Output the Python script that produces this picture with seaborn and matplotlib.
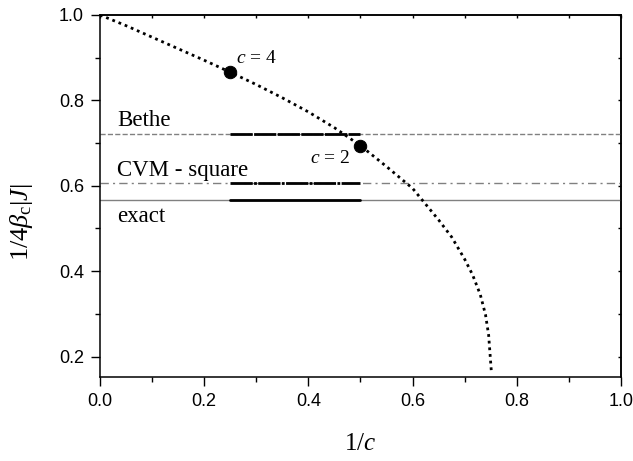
import numpy as np
import pandas as pd
import matplotlib
matplotlib.use("Agg")
import matplotlib.pyplot as plt
import seaborn as sns
from matplotlib.ticker import MultipleLocator

# ---- data ----
inv_c = [0.0, 0.05, 0.10, 0.15, 0.20, 0.25, 0.30, 0.35, 0.40, 0.45, 0.50,
         0.55, 0.60, 0.65, 0.675, 0.70, 0.715, 0.73, 0.74, 0.746, 0.751]
tc = [1.0, 0.975, 0.948, 0.921, 0.894, 0.866, 0.837, 0.806, 0.773, 0.736, 0.694,
      0.645, 0.594, 0.520, 0.480, 0.428, 0.392, 0.345, 0.298, 0.250, 0.168]
pts_x = [0.25, 0.5]
pts_y = [0.866, 0.694]
pts_lab = ["4", "2"]
approx_names = ["Bethe", "CVM - square", "exact"]
approx_vals = [0.7214, 0.6069, 0.5673]
seg_x = [0.25, 0.5]

sns.set_theme(style="ticks")
plt.rcParams["font.family"] = ["Liberation Sans", "DejaVu Sans"]
plt.rcParams["mathtext.fontset"] = "custom"
plt.rcParams["mathtext.rm"] = "Liberation Serif"
plt.rcParams["mathtext.it"] = "Liberation Serif:italic"
plt.rcParams["text.color"] = "black"
plt.rcParams["axes.labelcolor"] = "black"

fig = plt.figure(figsize=(6.33, 4.61), dpi=100)
ax = fig.add_axes([0.158, 0.182, 0.823, 0.7855])

df = pd.DataFrame({"x": inv_c, "y": tc})

# horizontal reference lines (gray, full width)
styles_gray = ["--", (0, (6, 3, 1.5, 3)), "-"]
styles_blk = [(0, (8, 0.5)), (0, (8, 0.5, 1, 0.5)), "-"]
for v, sg, sb in zip(approx_vals, styles_gray, styles_blk):
    ax.axhline(v, color="#808080", lw=1.0, ls=sg, zorder=1)
    sns.lineplot(x=seg_x, y=[v, v], ax=ax, color="black", lw=2.0,
                 linestyle=sb, zorder=2)

sns.lineplot(data=df, x="x", y="y", ax=ax, color="black", lw=2.0,
             linestyle=(0, (1, 1.4)), sort=False, zorder=3)
sns.scatterplot(x=pts_x, y=pts_y, ax=ax, color="black", s=80,
                edgecolor="black", zorder=4)

serif = ["Liberation Serif", "DejaVu Serif"]
ax.text(0.261, 0.888, r"$c$ = 4", fontsize=14, family=serif, va="baseline",
        color="black")
ax.text(0.403, 0.654, r"$c$ = 2", fontsize=14, family=serif, va="baseline",
        color="black")
text_y = [0.740, 0.623, 0.516]
for name, ty in zip(approx_names, text_y):
    ax.text(0.033, ty, name, fontsize=16.5, family=serif, va="baseline",
            color="black")

ax.set_xlim(0, 1.0)
ax.set_ylim(0.152, 1.0)
ax.xaxis.set_major_locator(MultipleLocator(0.2))
ax.xaxis.set_minor_locator(MultipleLocator(0.1))
ax.yaxis.set_major_locator(MultipleLocator(0.2))
ax.yaxis.set_minor_locator(MultipleLocator(0.1))
ax.set_xticks([0.0, 0.2, 0.4, 0.6, 0.8, 1.0])
ax.set_yticks([0.2, 0.4, 0.6, 0.8, 1.0])
ax.tick_params(which="major", direction="out", length=6.5, width=1.0,
               labelsize=13, pad=5, color="black", labelcolor="black")
ax.tick_params(which="minor", direction="out", length=3.5, width=1.0,
               color="black")
for s in ax.spines.values():
    s.set_visible(True)
    s.set_linewidth(1.1)
    s.set_color("black")

sec_x = ax.secondary_xaxis("top")
sec_x.xaxis.set_major_locator(MultipleLocator(0.2))
sec_x.xaxis.set_minor_locator(MultipleLocator(0.1))
sec_x.tick_params(which="both", direction="in", length=2.5, width=1.0,
                  labeltop=False, color="black")
sec_y = ax.secondary_yaxis("right")
sec_y.yaxis.set_major_locator(MultipleLocator(0.2))
sec_y.yaxis.set_minor_locator(MultipleLocator(0.1))
sec_y.tick_params(which="both", direction="in", length=2.5, width=1.0,
                  labelright=False, color="black")
for sec in (sec_x, sec_y):
    for s in sec.spines.values():
        s.set_linewidth(1.1)
        s.set_color("black")

ax.set_xlabel(r"1/$c$", fontsize=18, family=serif, color="black")
ax.set_ylabel(r"1/4$\beta_{\rm c}$|$J$|", fontsize=19, family=serif,
              color="black")
ax.xaxis.set_label_coords(0.5, -0.155)
ax.yaxis.set_label_coords(-0.125, 0.428)

fig.savefig("out.png", dpi=100)
